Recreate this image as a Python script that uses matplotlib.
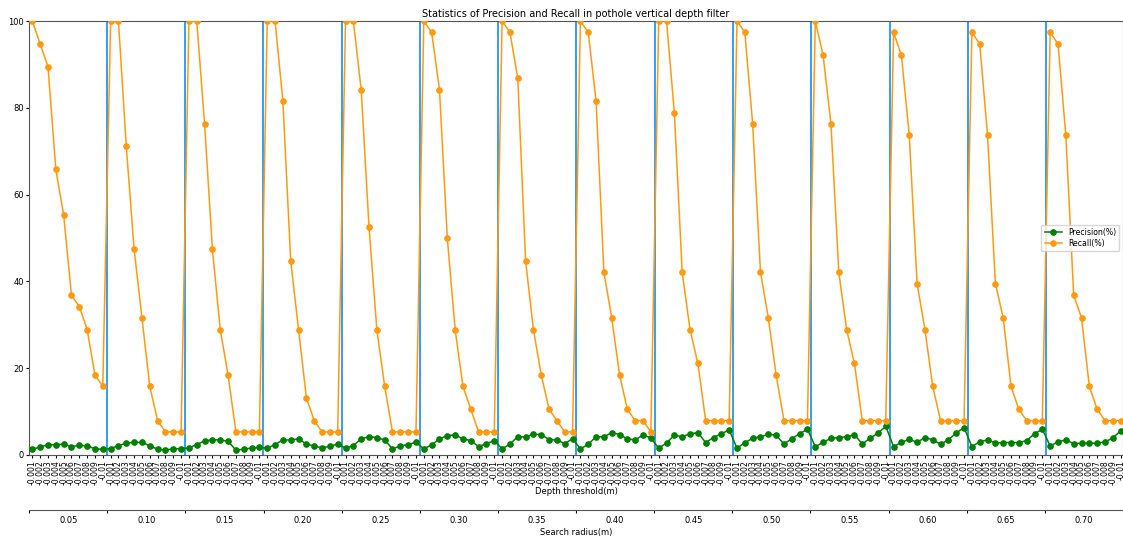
import numpy as np
import matplotlib
matplotlib.use("Agg")
import matplotlib.pyplot as plt

# search radius groups and depth thresholds
radius = ["0.05", "0.10", "0.15", "0.20", "0.25", "0.30", "0.35",
          "0.40", "0.45", "0.50", "0.55", "0.60", "0.65", "0.70"]
depth = ["-0.001", "-0.002", "-0.003", "-0.004", "-0.005",
         "-0.006", "-0.007", "-0.008", "-0.009", "-0.01"]

# recall (%) per group, 10 thresholds each
recall = [
    [100, 94.7, 89.5, 65.8, 55.3, 36.8, 34.2, 28.9, 18.4, 15.8],
    [100, 100, 71.1, 47.4, 31.6, 15.8, 7.9, 5.3, 5.3, 5.3],
    [100, 100, 76.3, 47.4, 28.9, 18.4, 5.3, 5.3, 5.3, 5.3],
    [100, 100, 81.6, 44.7, 28.9, 13.2, 7.9, 5.3, 5.3, 5.3],
    [100, 100, 84.2, 52.6, 28.9, 15.8, 5.3, 5.3, 5.3, 5.3],
    [100, 97.4, 84.2, 50.0, 28.9, 15.8, 10.5, 5.3, 5.3, 5.3],
    [100, 97.4, 86.8, 44.7, 28.9, 18.4, 10.5, 7.9, 5.3, 5.3],
    [100, 97.4, 81.6, 42.1, 31.6, 18.4, 10.5, 7.9, 7.9, 5.3],
    [100, 100, 78.9, 42.1, 28.9, 21.1, 7.9, 7.9, 7.9, 7.9],
    [100, 97.4, 76.3, 42.1, 31.6, 18.4, 7.9, 7.9, 7.9, 7.9],
    [100, 92.1, 76.3, 42.1, 28.9, 21.1, 7.9, 7.9, 7.9, 7.9],
    [97.4, 92.1, 73.7, 39.5, 28.9, 15.8, 7.9, 7.9, 7.9, 7.9],
    [97.4, 94.7, 73.7, 39.5, 31.6, 15.8, 10.5, 7.9, 7.9, 7.9],
    [97.4, 94.7, 73.7, 36.8, 31.6, 15.8, 10.5, 7.9, 7.9, 7.9],
]

# precision (%) per group
precision = [
    [1.4, 1.75, 2.4, 2.3, 2.5, 1.9, 2.2, 2.1, 1.4, 1.3],
    [1.45, 2.15, 2.7, 2.9, 2.9, 2.1, 1.3, 1.15, 1.4, 1.45],
    [1.6, 2.4, 3.2, 3.5, 3.45, 3.15, 1.1, 1.3, 1.6, 1.75],
    [1.55, 2.4, 3.45, 3.45, 3.7, 2.5, 2.05, 1.6, 2.0, 2.5],
    [1.55, 2.15, 3.7, 4.2, 4.0, 3.45, 1.4, 2.05, 2.4, 2.9],
    [1.4, 2.3, 3.7, 4.45, 4.6, 3.7, 3.3, 1.9, 2.6, 3.3],
    [1.4, 2.5, 4.2, 4.15, 4.75, 4.7, 3.5, 3.45, 2.6, 3.75],
    [1.4, 2.45, 4.2, 4.15, 5.15, 4.7, 3.7, 3.45, 4.6, 3.9],
    [1.55, 2.75, 4.55, 4.2, 4.85, 5.15, 2.85, 4.0, 4.9, 5.75],
    [1.55, 2.8, 3.85, 4.2, 4.75, 4.55, 2.5, 3.75, 4.9, 5.9],
    [1.9, 2.9, 3.85, 4.0, 4.2, 4.7, 2.5, 3.85, 5.0, 6.6],
    [1.9, 2.9, 3.6, 2.9, 4.0, 3.5, 2.45, 3.5, 5.05, 6.3],
    [1.9, 3.05, 3.45, 2.75, 2.85, 2.85, 2.85, 3.3, 4.9, 5.9],
    [2.05, 3.05, 3.45, 2.6, 2.7, 2.7, 2.7, 3.0, 3.9, 5.55],
]

n = len(depth)
prec = np.concatenate(precision)
rec = np.concatenate(recall)
x = np.arange(len(prec))
labels = depth * len(radius)

fig = plt.figure(figsize=(11.23, 5.39), dpi=100)
ax = fig.add_axes([0.026, 0.156, 0.974, 0.805])

# group separators
for k in range(1, len(radius)):
    ax.axvline(k * n - 0.5, color="#2196f3", lw=1.3, zorder=1)

ax.plot(x, prec, color="green", marker="o", ms=3.8, lw=1.1, label="Precision(%)", zorder=3)
ax.plot(x, rec, color="#ff9a10", marker="o", ms=3.8, lw=1.1, label="Recall(%)", zorder=3)

ax.set_xlim(-0.4, 139.3)
ax.set_ylim(0, 100)
ax.set_yticks([0, 20, 40, 60, 80, 100])
ax.tick_params(axis="y", labelsize=6, length=2.5, pad=1.5)
ax.set_xticks(x)
ax.set_xticklabels(labels, rotation=90, fontsize=5.6)
ax.tick_params(axis="x", length=2.5, pad=1.5)
ax.set_xlabel("Depth threshold(m)", fontsize=6, labelpad=1)
ax.set_title("Statistics of Precision and Recall in pothole vertical depth filter", fontsize=7, pad=3)
ax.legend(loc="center right", fontsize=5.6, handlelength=2.2, borderpad=0.4, labelspacing=0.3)
for s in ax.spines.values():
    s.set_color("#555555")

# second axis for search radius
ax2 = ax.twiny()
ax2.set_xlim(ax.get_xlim())
ax2.spines["bottom"].set_position(("outward", 40))
ax2.spines["bottom"].set_color("#555555")
ax2.xaxis.set_ticks_position("bottom")
ax2.xaxis.set_label_position("bottom")
for s in ["top", "left", "right"]:
    ax2.spines[s].set_visible(False)
ax2.set_xticks([k * n - 0.5 for k in range(len(radius) + 1)])
ax2.set_xticklabels([])
ax2.set_xticks([k * n + (n - 1) / 2 for k in range(len(radius))], minor=True)
ax2.set_xticklabels(radius, minor=True, fontsize=6)
ax2.tick_params(axis="x", which="major", length=2.5)
ax2.tick_params(axis="x", which="minor", length=0, pad=4)
ax2.set_xlabel("Search radius(m)", fontsize=6, labelpad=2)

fig.savefig("out.png", dpi=100)
